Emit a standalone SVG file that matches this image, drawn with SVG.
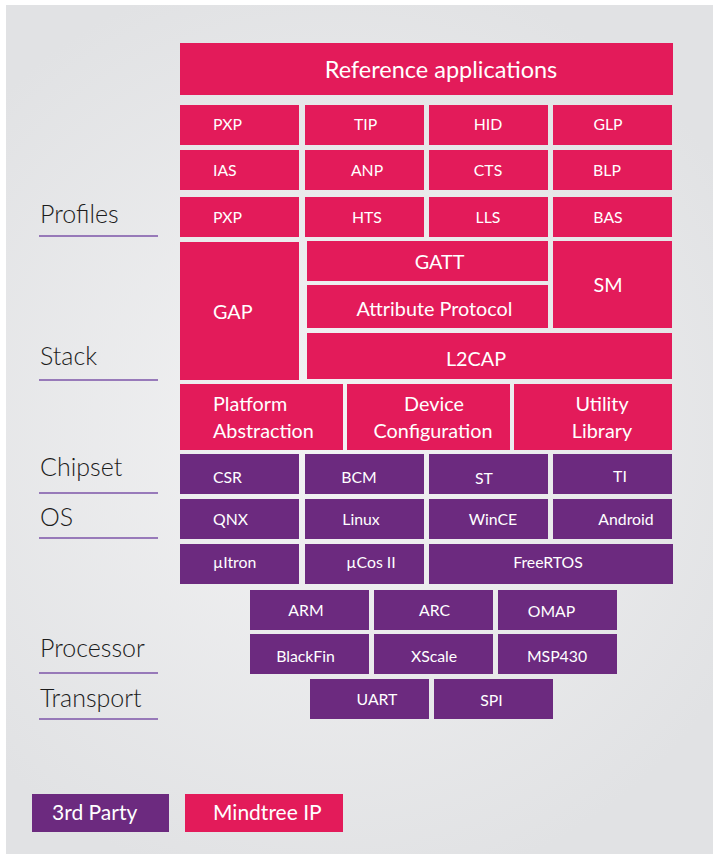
<svg xmlns="http://www.w3.org/2000/svg" width="713" height="854" viewBox="0 0 713 854">
<style>
.p{fill:#e31b5a}
.u{fill:#6c2a7f}
.t{fill:#ffffff;font-family:Lato,"Open Sans","Liberation Sans",sans-serif;font-size:15.8px}
.m{font-size:19.8px}
.c{text-anchor:middle}
.lb{fill:#1c1c1c;font-family:Lato,"Open Sans","Liberation Sans",sans-serif;font-size:25px;font-weight:300}
.ul{stroke:#7d55a8;stroke-width:1.5}
</style>
<defs>
<radialGradient id="bg" cx="330" cy="430" r="470" gradientUnits="userSpaceOnUse">
<stop offset="0" stop-color="#f3f3f4"/>
<stop offset="1" stop-color="#e1e2e4"/>
</radialGradient>
</defs>
<rect width="713" height="854" fill="#ffffff"/>
<rect x="6" y="5" width="707" height="849" fill="url(#bg)"/>

<g id="labels">
<text class="lb" x="40" y="223">Profiles</text><line class="ul" x1="39" y1="236" x2="158" y2="236"/>
<text class="lb" x="40" y="365">Stack</text><line class="ul" x1="39" y1="380" x2="158" y2="380"/>
<text class="lb" x="40" y="476">Chipset</text><line class="ul" x1="39" y1="493" x2="158" y2="493"/>
<text class="lb" x="40" y="526">OS</text><line class="ul" x1="39" y1="538" x2="158" y2="538"/>
<text class="lb" x="40" y="657">Processor</text><line class="ul" x1="39" y1="673" x2="158" y2="673"/>
<text class="lb" x="40" y="707">Transport</text><line class="ul" x1="39" y1="719" x2="158" y2="719"/>
</g>

<g id="ref-apps"><rect class="p" x="180" y="43" width="493" height="52"/><text class="t c" x="441" y="78" style="font-size:23.5px">Reference applications</text></g>

<g id="pxp1"><rect class="p" x="180" y="105" width="119" height="40"/><text class="t" x="213" y="129.5">PXP</text></g>
<g id="tip"><rect class="p" x="305" y="105" width="119" height="40"/><text class="t c" x="365.5" y="129.5">TIP</text></g>
<g id="hid"><rect class="p" x="429" y="105" width="119" height="40"/><text class="t c" x="488" y="129.5">HID</text></g>
<g id="glp"><rect class="p" x="553" y="105" width="119" height="40"/><text class="t c" x="608" y="129.5">GLP</text></g>

<g id="ias"><rect class="p" x="180" y="150" width="119" height="40"/><text class="t" x="213" y="176">IAS</text></g>
<g id="anp"><rect class="p" x="305" y="150" width="119" height="40"/><text class="t c" x="367" y="176">ANP</text></g>
<g id="cts"><rect class="p" x="429" y="150" width="119" height="40"/><text class="t c" x="488" y="176">CTS</text></g>
<g id="blp"><rect class="p" x="553" y="150" width="119" height="40"/><text class="t c" x="607" y="176">BLP</text></g>

<g id="pxp2"><rect class="p" x="180" y="197" width="119" height="40"/><text class="t" x="213" y="223">PXP</text></g>
<g id="hts"><rect class="p" x="305" y="197" width="119" height="40"/><text class="t c" x="367" y="223">HTS</text></g>
<g id="lls"><rect class="p" x="429" y="197" width="119" height="40"/><text class="t c" x="488" y="223">LLS</text></g>
<g id="bas"><rect class="p" x="553" y="197" width="119" height="40"/><text class="t c" x="608" y="223">BAS</text></g>

<g id="gap"><rect class="p" x="180" y="242" width="119" height="138"/><text class="t m" x="213" y="319">GAP</text></g>
<g id="gatt"><rect class="p" x="307" y="241" width="241" height="40"/><text class="t m c" x="439.5" y="269">GATT</text></g>
<g id="att"><rect class="p" x="307" y="285" width="241" height="43"/><text class="t m c" x="434.5" y="316">Attribute Protocol</text></g>
<g id="sm"><rect class="p" x="553" y="241" width="119" height="87"/><text class="t m c" x="608" y="292">SM</text></g>
<g id="l2cap"><rect class="p" x="307" y="333" width="365" height="46"/><text class="t m c" x="476" y="366">L2CAP</text></g>

<g id="platform"><rect class="p" x="180" y="384" width="163" height="66"/><text class="t m" x="213" y="411">Platform</text><text class="t m" x="213" y="438">Abstraction</text></g>
<g id="device"><rect class="p" x="347" y="384" width="163" height="66"/><text class="t m c" x="434" y="411">Device</text><text class="t m c" x="433" y="438">Configuration</text></g>
<g id="utility"><rect class="p" x="514" y="384" width="158" height="66"/><text class="t m c" x="602" y="411">Utility</text><text class="t m c" x="602" y="438">Library</text></g>

<g id="csr"><rect class="u" x="180" y="454" width="119" height="40"/><text class="t" x="213" y="483">CSR</text></g>
<g id="bcm"><rect class="u" x="305" y="454" width="119" height="40"/><text class="t c" x="359" y="483">BCM</text></g>
<g id="st"><rect class="u" x="429" y="454" width="119" height="40"/><text class="t c" x="484" y="484">ST</text></g>
<g id="ti"><rect class="u" x="553" y="454" width="119" height="40"/><text class="t c" x="620" y="482">TI</text></g>

<g id="qnx"><rect class="u" x="180" y="499" width="119" height="40"/><text class="t" x="213" y="525">QNX</text></g>
<g id="linux"><rect class="u" x="305" y="499" width="119" height="40"/><text class="t c" x="361" y="525">Linux</text></g>
<g id="wince"><rect class="u" x="429" y="499" width="119" height="40"/><text class="t c" x="493" y="525">WinCE</text></g>
<g id="android"><rect class="u" x="553" y="499" width="119" height="40"/><text class="t c" x="626" y="525">Android</text></g>

<g id="uitron"><rect class="u" x="180" y="544" width="119" height="40"/><text class="t" x="213" y="568">µItron</text></g>
<g id="ucos"><rect class="u" x="305" y="544" width="119" height="40"/><text class="t c" x="371" y="568">µCos II</text></g>
<g id="freertos"><rect class="u" x="429" y="544" width="244" height="40"/><text class="t c" x="548" y="568">FreeRTOS</text></g>

<g id="arm"><rect class="u" x="250" y="590" width="119" height="40"/><text class="t c" x="306" y="616">ARM</text></g>
<g id="arc"><rect class="u" x="374" y="590" width="119" height="40"/><text class="t c" x="434.5" y="616">ARC</text></g>
<g id="omap"><rect class="u" x="498" y="590" width="119" height="40"/><text class="t c" x="551.5" y="617">OMAP</text></g>

<g id="blackfin"><rect class="u" x="250" y="634" width="119" height="40"/><text class="t c" x="305.5" y="662">BlackFin</text></g>
<g id="xscale"><rect class="u" x="374" y="634" width="119" height="40"/><text class="t c" x="434" y="662">XScale</text></g>
<g id="msp430"><rect class="u" x="498" y="634" width="119" height="40"/><text class="t c" x="557" y="662">MSP430</text></g>

<g id="uart"><rect class="u" x="310" y="679" width="119" height="40"/><text class="t c" x="377" y="705">UART</text></g>
<g id="spi"><rect class="u" x="434" y="679" width="119" height="40"/><text class="t c" x="491.5" y="706">SPI</text></g>

<g id="legend-3rd"><rect class="u" x="32" y="794" width="137" height="38"/><text class="t" x="52" y="820" style="font-size:21px">3rd Party</text></g>
<g id="legend-mindtree"><rect class="p" x="185" y="794" width="158" height="38"/><text class="t" x="213" y="820" style="font-size:21px">Mindtree IP</text></g>
</svg>
